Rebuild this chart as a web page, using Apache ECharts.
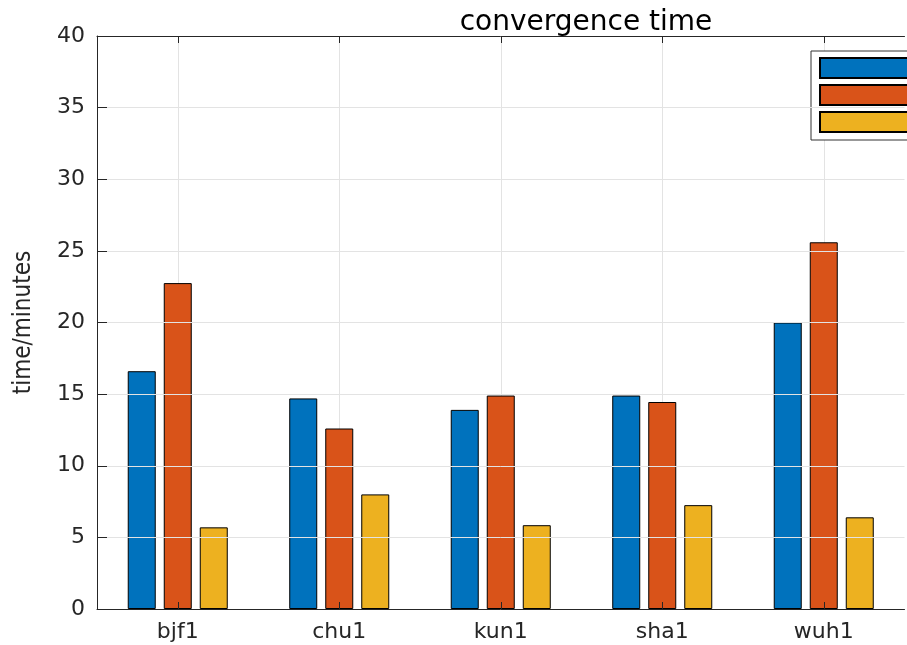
<!DOCTYPE html>
<html>
<head>
<meta charset="utf-8">
<script src="https://cdn.jsdelivr.net/npm/echarts@6/dist/echarts.min.js"></script>
<style>html,body{margin:0;padding:0;background:#fff}#c{width:907px;height:645px}</style>
</head>
<body>
<div id="c"></div>
<script>
var categories = ['bjf1', 'chu1', 'kun1', 'sha1', 'wuh1'];
var seriesNames = ['data1', 'data2', 'data3'];
var series1 = [16.6, 14.7, 13.9, 14.9, 20.0];
var series2 = [22.75, 12.6, 14.9, 14.45, 25.6];
var series3 = [5.7, 8.0, 5.85, 7.25, 6.4];
var yTicks = [0, 5, 10, 15, 20, 25, 30, 35, 40];
var colors = ['#0072BD', '#D95319', '#EDB120'];

var axisColor = '#262626';
var gridColor = '#e3e3e3';
var font = 'DejaVu Sans';

var chart = echarts.init(document.getElementById('c'), null, {renderer: 'canvas'});

function barSeries(name, data, color, withGrid) {
  var s = {
    name: name,
    type: 'bar',
    data: data,
    barWidth: 28,
    barGap: '28.6%',
    z: 2,
    itemStyle: {color: color, borderColor: '#000', borderWidth: 1},
    emphasis: {disabled: true}
  };
  if (withGrid) {
    s.markLine = {
      z: 1,
      silent: true,
      symbol: 'none',
      label: {show: false},
      lineStyle: {color: gridColor, width: 1, type: 'solid'},
      emphasis: {disabled: true},
      animation: false,
      data: categories.map(function (c) { return {xAxis: c}; })
    };
  }
  return s;
}

var option = {
  animation: false,
  backgroundColor: '#fff',
  title: {
    text: 'convergence time',
    left: 581,
    textAlign: 'center',
    top: 4,
    textStyle: {fontFamily: font, fontSize: 28, fontWeight: 'normal', color: '#000'}
  },
  legend: {
    orient: 'vertical',
    left: 811,
    top: 51,
    padding: [6, 8, 7, 8],
    itemGap: 5,
    itemWidth: 100,
    itemHeight: 20,
    icon: 'rect',
    borderColor: '#333',
    borderWidth: 1,
    backgroundColor: '#fff',
    data: seriesNames,
    textStyle: {fontFamily: font, fontSize: 14, color: '#000'},
    selectedMode: false
  },
  grid: {left: 97, right: 2.5, top: 36, bottom: 36, containLabel: false},
  xAxis: [{
    type: 'category',
    data: categories,
    position: 'bottom',
    z: 10,
    axisLine: {show: true, lineStyle: {color: axisColor, width: 1}},
    axisTick: {show: true, inside: true, alignWithLabel: true, length: 7, lineStyle: {color: axisColor}},
    axisLabel: {fontFamily: font, fontSize: 22, color: axisColor, margin: 12},
    splitLine: {show: false}
  }, {
    type: 'category',
    data: categories,
    position: 'top',
    z: 10,
    axisLine: {show: true, lineStyle: {color: axisColor, width: 1}},
    axisTick: {show: true, inside: true, alignWithLabel: true, length: 7, lineStyle: {color: axisColor}},
    axisLabel: {show: false},
    splitLine: {show: false}
  }],
  yAxis: {
    type: 'value',
    min: yTicks[0],
    max: yTicks[yTicks.length - 1],
    interval: 5,
    z: 10,
    name: 'time/minutes',
    nameLocation: 'middle',
    nameGap: 61,
    nameRotate: 90,
    nameTextStyle: {fontFamily: "'Liberation Sans Narrow', 'DejaVu Sans Condensed', sans-serif", fontSize: 24, color: axisColor},
    axisLine: {show: true, lineStyle: {color: axisColor, width: 1}},
    axisTick: {show: true, inside: true, length: 10, lineStyle: {color: axisColor}},
    axisLabel: {fontFamily: font, fontSize: 22, color: axisColor, margin: 12},
    splitLine: {show: true, lineStyle: {color: gridColor, width: 1}}
  },
  series: [
    barSeries(seriesNames[0], series1, colors[0], false),
    barSeries(seriesNames[1], series2, colors[1], true),
    barSeries(seriesNames[2], series3, colors[2], false)
  ]
};
chart.setOption(option);
</script>
</body>
</html>
